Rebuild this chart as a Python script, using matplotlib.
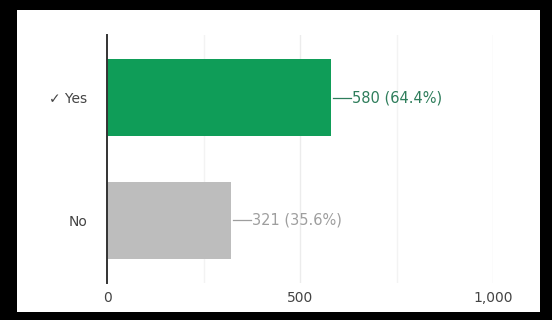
import matplotlib.pyplot as plt
from matplotlib.patches import Rectangle

plt.rcParams['font.family'] = ['DejaVu Sans']

# Survey answers
answers = ['✓ Yes', 'No']
counts = [580, 321]
shares = [64.4, 35.6]
bar_colors = ['#0f9d58', '#bdbdbd']
label_colors = ['#2e7d5b', '#9e9e9e']
x_ticks = [0, 500, 1000]
x_tick_labels = ['0', '500', '1,000']

fig = plt.figure(figsize=(5.52, 3.2), dpi=100)
fig.patch.set_facecolor('black')

# white card inside the black frame
card = Rectangle((17 / 552, 8 / 320), 523 / 552, 302 / 320,
                 transform=fig.transFigure, facecolor='white',
                 edgecolor='none', zorder=0)
fig.add_artist(card)

ax = fig.add_axes([107 / 552, 37 / 320, 386 / 552, 248 / 320])
ax.set_facecolor('white')

ypos = list(range(len(answers)))
ax.barh(ypos, counts, height=0.63, color=bar_colors, zorder=3)

# leader line + value label next to each bar
for y, c, s, col in zip(ypos, counts, shares, label_colors):
    ax.plot([c + 6, c + 52], [y, y], color=col, lw=0.9, zorder=3)
    ax.text(c + 55, y, f'{c} ({s}%)', va='center', ha='left',
            fontsize=10.5, color=col)

ax.set_xlim(0, 1000)
ax.set_ylim(1.51, -0.51)

# light vertical grid
for gx, gc in [(250, '#f3f3f3'), (500, '#ececec'), (750, '#f3f3f3'), (1000, '#ececec')]:
    ax.axvline(gx, color=gc, lw=1.0, zorder=1)

ax.set_xticks(x_ticks)
ax.set_xticklabels(x_tick_labels)
ax.set_yticks(ypos)
ax.set_yticklabels(answers)
ax.tick_params(axis='both', length=0, labelsize=10, colors='#444444')
ax.tick_params(axis='x', pad=6)
ax.tick_params(axis='y', pad=14)

for side in ['top', 'right', 'bottom']:
    ax.spines[side].set_visible(False)
ax.spines['left'].set_color('#333333')
ax.spines['left'].set_linewidth(1.4)
ax.spines['left'].set_zorder(4)

fig.savefig('out.png', dpi=100, facecolor=fig.get_facecolor())
